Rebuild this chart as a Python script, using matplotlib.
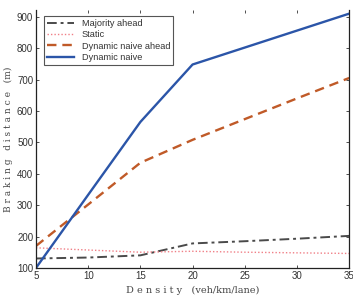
import numpy as np
import matplotlib.pyplot as plt

density = [5, 10, 15, 20, 25, 30, 35]
majority_ahead = [130, 133, 140, 178, 185, 193, 202]
static = [164, 157, 150, 153, 150, 148, 146]
dynamic_naive_ahead = [170, 302, 435, 508, 574, 640, 705]
dynamic_naive = [100, 333, 565, 748, 802, 856, 910]

plt.rcParams['font.family'] = ['Liberation Sans', 'DejaVu Sans']

fig = plt.figure(figsize=(3.53, 3.0), dpi=100)
ax = fig.add_axes([0.102, 0.107, 0.887, 0.86])

ax.plot(density, majority_ahead, color='#4a4a4a', linestyle=(0, (5, 2, 1.5, 2)), linewidth=1.4, label='Majority ahead')
ax.plot(density, static, color='#f07f86', linestyle=(0, (1, 1.5)), linewidth=1.0, label='Static')
ax.plot(density, dynamic_naive_ahead, color='#c05a28', linestyle=(0, (4, 2.5)), linewidth=1.7, label='Dynamic naive ahead')
ax.plot(density, dynamic_naive, color='#2b55a8', linewidth=1.7, label='Dynamic naive')

ax.set_xlim(5, 35)
ax.set_ylim(100, 922)
ax.set_xticks([5, 10, 15, 20, 25, 30, 35])
ax.set_yticks(np.arange(100, 901, 100))
ax.tick_params(direction='in', labelsize=7, length=2.5, width=0.6,
               top=True, right=True, pad=2, colors='#333333')
ax.spines['top'].set_visible(False)
for s in ['left', 'bottom', 'right']:
    ax.spines[s].set_linewidth(0.9)
    ax.spines[s].set_color('#222222')

ax.set_xlabel('D e n s i t y   (veh/km/lane)', fontsize=7, family='DejaVu Serif', color='#444444', labelpad=4)
ax.set_ylabel('B r a k i n g   d i s t a n c e   (m)', fontsize=6.5, family='DejaVu Serif', color='#444444', labelpad=3)

leg = ax.legend(loc='upper left', fontsize=6.6, handlelength=3.0, borderpad=0.35,
                labelspacing=0.25, fancybox=False, framealpha=1,
                bbox_to_anchor=(0.01, 0.995))
leg.get_frame().set_edgecolor('#555555')
leg.get_frame().set_linewidth(0.8)
for t in leg.get_texts():
    t.set_color('#333333')

plt.savefig('out.png', dpi=100)
